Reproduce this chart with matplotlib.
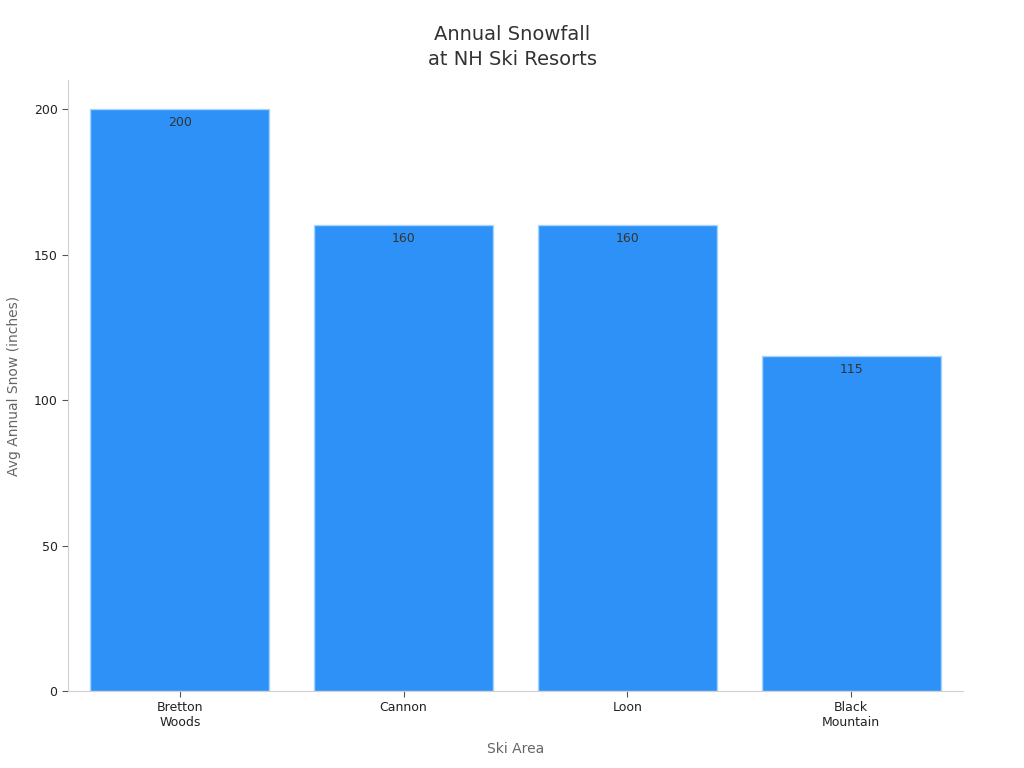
import matplotlib
matplotlib.use('Agg')
from matplotlib import pyplot as plt

areas = ['Bretton\nWoods', 'Cannon', 'Loon', 'Black\nMountain']
snow = [200, 160, 160, 115]

fig = plt.figure(figsize=(10.24, 7.68), dpi=100)
ax = fig.add_axes([0.0664, 0.1003, 0.874, 0.7955])

x = list(range(len(areas)))
bars = ax.bar(x, snow, width=0.8, color='#2e91f7', edgecolor='#a9d3fb', linewidth=1)
for xi, v in zip(x, snow):
    ax.text(xi, v - 2.3, str(v), ha='center', va='top', fontsize=9, color='#333333')

ax.set_xlim(-0.5, 3.5)
ax.set_ylim(0, 210)
ax.set_yticks([0, 50, 100, 150, 200])
ax.set_xticks(x)
ax.set_xticklabels(areas, fontsize=9, color='#222222')
ax.tick_params(axis='y', labelsize=9, labelcolor='#222222', color='#555555', length=4)
ax.tick_params(axis='x', color='#555555', length=4)
for s in ['top', 'right']:
    ax.spines[s].set_visible(False)
for s in ['left', 'bottom']:
    ax.spines[s].set_color('#d0d0d0')

ax.set_xlabel('Ski Area', fontsize=10, color='#666666', labelpad=9)
ax.set_ylabel('Avg Annual Snow (inches)', fontsize=10, color='#666666', labelpad=9)
fig.suptitle('Annual Snowfall\nat NH Ski Resorts', fontsize=14, color='#333333',
             y=0.968, linespacing=1.45)

fig.savefig('out.png', dpi=100)
